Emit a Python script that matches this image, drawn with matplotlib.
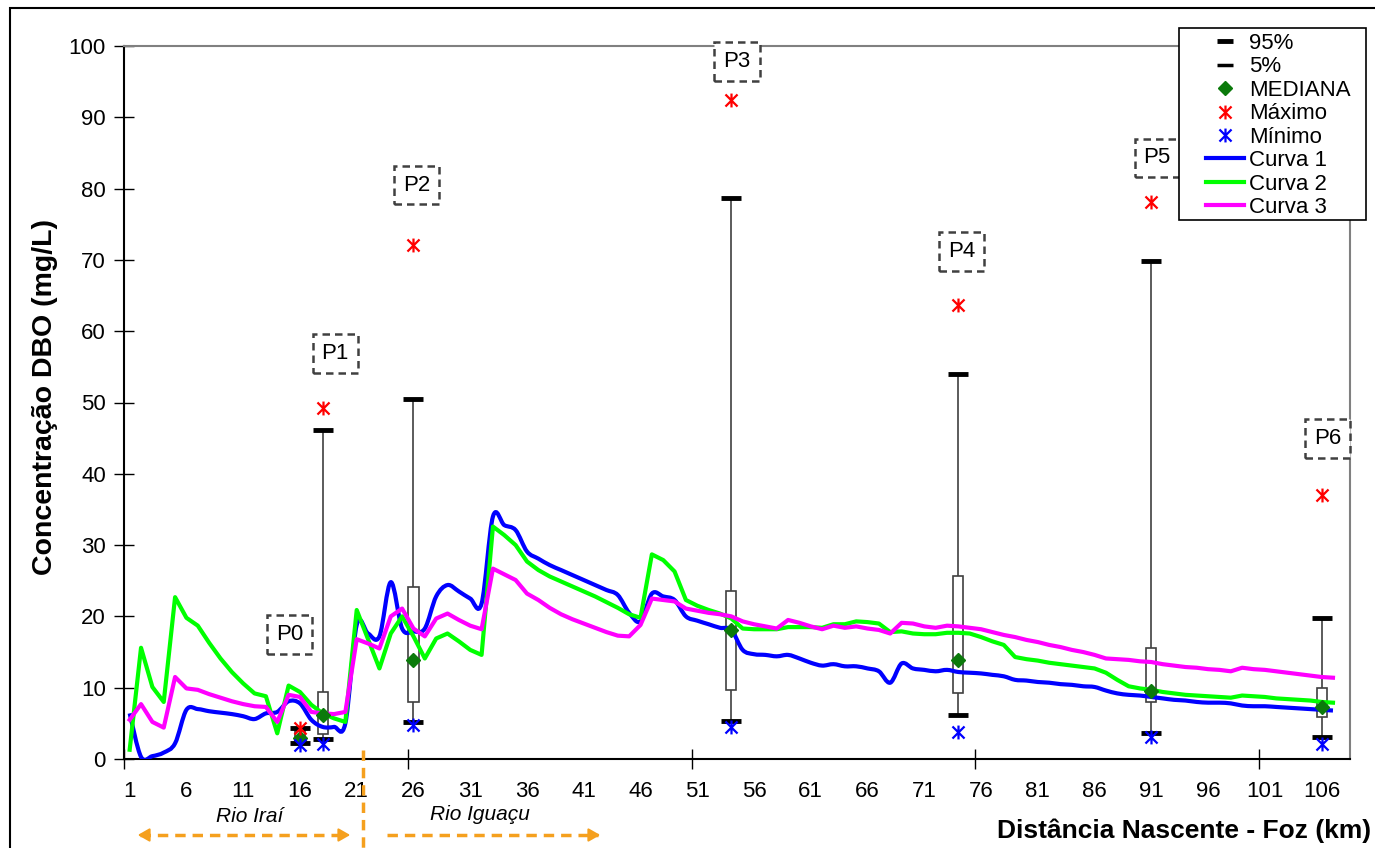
import matplotlib
matplotlib.use("Agg")
import matplotlib.pyplot as plt
from matplotlib.patches import Rectangle, FancyArrowPatch, PathPatch
from matplotlib.lines import Line2D
from matplotlib.path import Path

plt.rcParams['font.family'] = ['Liberation Sans', 'DejaVu Sans']

# ---------------- data ----------------
km = list(range(1, 108))
curva1 = [6.4, 0.3, 0.4, 0.9, 2.2, 6.9, 7.0, 6.7, 6.5, 6.3, 6.0, 5.6, 6.4, 6.6, 8.1, 7.8, 5.5, 4.5, 4.5, 5.0,
          18.8, 17.6, 17.2, 24.8, 18.3, 17.9, 18.3, 22.8, 24.4, 23.5, 22.5, 21.8, 34.0, 32.8, 32.1, 29.1, 28.1, 27.2,
          26.5, 25.8, 25.1, 24.4, 23.7, 23.0, 20.5, 19.3, 23.2, 22.8, 22.3, 20.0, 19.4, 18.9, 18.4, 18.1, 15.3, 14.7,
          14.6, 14.4, 14.6, 14.1, 13.5, 13.1, 13.3, 13.0, 13.0, 12.7, 12.3, 10.7, 13.4, 12.7, 12.5, 12.3, 12.5, 12.2,
          12.1, 12.0, 11.8, 11.6, 11.1, 11.0, 10.8, 10.7, 10.5, 10.4, 10.2, 10.1, 9.6, 9.2, 9.0, 8.9, 8.7, 8.5, 8.3,
          8.2, 8.0, 7.9, 7.9, 7.8, 7.5, 7.4, 7.4, 7.3, 7.2, 7.1, 7.0, 6.9, 6.8]
curva2 = [1.3, 15.6, 10.1, 8.0, 22.7, 19.8, 18.7, 16.3, 14.1, 12.2, 10.6, 9.2, 8.8, 3.6, 10.3, 9.4, 7.6, 6.4, 5.7, 5.2,
          20.9, 16.8, 12.7, 17.6, 20.0, 17.2, 14.1, 16.9, 17.6, 16.5, 15.3, 14.6, 32.6, 31.4, 30.0, 27.7, 26.5, 25.6,
          24.9, 24.2, 23.5, 22.8, 22.0, 21.2, 20.3, 19.8, 28.7, 27.9, 26.3, 22.3, 21.5, 20.9, 20.4, 19.7, 18.3, 18.2,
          18.2, 18.2, 18.5, 18.5, 18.5, 18.4, 18.9, 18.9, 19.3, 19.2, 19.0, 17.8, 17.9, 17.6, 17.5, 17.5, 17.7, 17.7,
          17.6, 17.1, 16.5, 16.0, 14.3, 14.0, 13.8, 13.5, 13.3, 13.1, 12.9, 12.7, 12.1, 11.1, 10.2, 9.9, 9.7, 9.4, 9.2,
          9.0, 8.9, 8.8, 8.7, 8.6, 8.9, 8.8, 8.7, 8.5, 8.4, 8.3, 8.2, 8.0, 7.9]
curva3 = [5.5, 7.7, 5.2, 4.4, 11.5, 9.9, 9.7, 9.1, 8.6, 8.1, 7.7, 7.4, 7.3, 5.2, 9.0, 8.7, 6.6, 6.4, 6.3, 6.6,
          16.8, 16.2, 15.5, 20.0, 21.1, 18.3, 17.2, 19.7, 20.4, 19.5, 18.7, 18.2, 26.7, 25.9, 25.1, 23.2, 22.3, 21.2,
          20.3, 19.6, 19.0, 18.4, 17.8, 17.3, 17.2, 18.8, 22.5, 22.3, 22.1, 21.1, 20.8, 20.5, 20.3, 20.0, 19.3, 18.9,
          18.6, 18.3, 19.5, 19.1, 18.6, 18.2, 18.7, 18.4, 18.6, 18.3, 18.1, 17.6, 19.1, 19.0, 18.6, 18.4, 18.7, 18.6,
          18.4, 18.2, 17.8, 17.4, 17.1, 16.7, 16.4, 16.0, 15.7, 15.3, 15.0, 14.6, 14.1, 14.0, 13.9, 13.7, 13.6, 13.3,
          13.1, 12.9, 12.8, 12.6, 12.5, 12.3, 12.8, 12.6, 12.5, 12.3, 12.1, 11.9, 11.7, 11.5, 11.4]

pontos = ['P0', 'P1', 'P2', 'P3', 'P4', 'P5', 'P6']
pos_pontos = [16, 18, 26, 54, 74, 91, 106]
p95 = [4.3, 46.1, 50.5, 78.7, 54.0, 69.8, 19.8]
p05 = [2.2, 2.8, 5.2, 5.3, 6.2, 3.6, 3.1]
q3 = [3.9, 9.4, 24.1, 23.6, 25.7, 15.6, 9.9]
q1 = [2.6, 3.5, 8.0, 9.7, 9.2, 8.0, 5.9]
mediana = [2.9, 6.2, 13.9, 18.1, 13.9, 9.5, 7.3]
maximo = [4.3, 49.2, 72.1, 92.4, 63.7, 78.1, 37.0]
minimo = [2.0, 2.1, 4.8, 4.5, 3.8, 3.1, 2.1]
label_x = [15.1, 19.1, 26.3, 54.5, 74.3, 91.5, 106.5]
label_y = [17.5, 56.9, 80.5, 97.8, 71.2, 84.3, 45.0]

xtick_labels = list(range(1, 107, 5))
yticks = list(range(0, 101, 10))

# ---------------- figure ----------------
W, H = 1375, 848
fig = plt.figure(figsize=(W / 100, H / 100), dpi=100)
ax = fig.add_axes([124 / W, (H - 759) / H, (1350 - 124) / W, (759 - 46) / H])

ax.set_xlim(0.5, 108.5)
ax.set_ylim(0, 100)

# Excel-like star marker: X plus vertical bar
star = Path([(-1, -1), (1, 1), (-1, 1), (1, -1), (0, -1.15), (0, 1.15)],
            [Path.MOVETO, Path.LINETO, Path.MOVETO, Path.LINETO, Path.MOVETO, Path.LINETO])


def smooth_path(xs, ys):
    """Excel-style smoothed line through the points (Catmull-Rom as cubic Bezier)."""
    n = len(xs)
    verts = [(xs[0], ys[0])]
    codes = [Path.MOVETO]
    for i in range(n - 1):
        i0 = max(i - 1, 0)
        i3 = min(i + 2, n - 1)
        c1 = (xs[i] + (xs[i + 1] - xs[i0]) / 6, ys[i] + (ys[i + 1] - ys[i0]) / 6)
        c2 = (xs[i + 1] - (xs[i3] - xs[i]) / 6, ys[i + 1] - (ys[i3] - ys[i]) / 6)
        verts += [c1, c2, (xs[i + 1], ys[i + 1])]
        codes += [Path.CURVE4] * 3
    return Path(verts, codes)


# box plots
for i, x in enumerate(pos_pontos):
    ax.plot([x, x], [p05[i], p95[i]], color='#404040', lw=1.2, zorder=2)
    ax.add_patch(Rectangle((x - 0.45, q1[i]), 0.9, q3[i] - q1[i], facecolor='white',
                           edgecolor='#404040', lw=1.2, zorder=3))

# curves
ax.add_patch(PathPatch(smooth_path(km, curva1), facecolor='none', edgecolor='#0000FF',
                       lw=3, zorder=4, joinstyle='round'))
ax.plot(km, curva2, color='#00FF00', lw=3, zorder=4, solid_joinstyle='round')
ax.plot(km, curva3, color='#FF00FF', lw=3, zorder=4, solid_joinstyle='round')

ax.plot(pos_pontos, p95, ls='none', marker='_', ms=14, mew=3.5, color='black', zorder=5)
ax.plot(pos_pontos, p05, ls='none', marker='_', ms=14, mew=3.5, color='black', zorder=5)
ax.plot(pos_pontos, mediana, ls='none', marker='D', ms=7, color='#0B7A0B', zorder=6)
ax.plot(pos_pontos, maximo, ls='none', marker=star, ms=10, mew=1.6, color='#FF0000', zorder=6)
ax.plot(pos_pontos, minimo, ls='none', marker=star, ms=10, mew=1.6, color='#0000FF', zorder=6)

for i, name in enumerate(pontos):
    ax.text(label_x[i], label_y[i], name, fontsize=16, ha='center', va='center', zorder=7,
            bbox=dict(boxstyle='square,pad=0.4', facecolor='white', edgecolor='#404040',
                      linestyle=(0, (3, 2)), lw=1.8))

# axes style
for s in ['left', 'bottom']:
    ax.spines[s].set_color('black')
    ax.spines[s].set_linewidth(1.5)
for s in ['top', 'right']:
    ax.spines[s].set_color('#808080')
    ax.spines[s].set_linewidth(1.5)

ax.set_yticks(yticks)
ax.set_yticklabels([str(v) for v in yticks], fontsize=16)
ax.tick_params(axis='y', direction='inout', length=14, width=1, pad=6)

ax.set_xticks(xtick_labels)
ax.set_xticklabels([str(v) for v in xtick_labels], fontsize=16)
ax.tick_params(axis='x', which='major', length=0, pad=16)
ax.set_xticks([0.5, 25.5, 50.5, 75.5, 100.5], minor=True)
ax.tick_params(axis='x', which='minor', direction='inout', length=14, width=1)

fig.text(45 / W, 1 - 397 / H, 'Concentração DBO (mg/L)', rotation=90, fontsize=20.5,
         fontweight='bold', ha='center', va='center')
fig.text(1371 / W, 1 - 831 / H, 'Distância Nascente - Foz (km)', fontsize=19,
         fontweight='bold', ha='right', va='center')

# river annotations
orange = '#F5A01E'
fig.text(250 / W, 1 - 816 / H, 'Rio Iraí', fontsize=15, style='italic', ha='center', va='center')
fig.text(480 / W, 1 - 814 / H, 'Rio Iguaçu', fontsize=15, style='italic', ha='center', va='center')
fig.add_artist(Line2D([363 / W, 363 / W], [1 - 750 / H, 0], transform=fig.transFigure,
                      color=orange, lw=2.5, ls=(0, (3, 2))))
ya = 1 - 835 / H
fig.add_artist(Line2D([140 / W, 348 / W], [ya, ya], transform=fig.transFigure,
                      color=orange, lw=2.5, ls=(0, (3, 2))))
fig.add_artist(Line2D([387 / W, 598 / W], [ya, ya], transform=fig.transFigure,
                      color=orange, lw=2.5, ls=(0, (3, 2))))
for (x0, x1) in [(146, 135), (341, 353), (592, 603)]:
    fig.add_artist(FancyArrowPatch((x0 / W, ya), (x1 / W, ya), transform=fig.transFigure,
                                   arrowstyle='-|>,head_length=7,head_width=4',
                                   color=orange, lw=1.5, mutation_scale=1))

# legend
handles = [
    Line2D([], [], ls='none', marker='_', ms=12, mew=3.5, color='black'),
    Line2D([], [], ls='none', marker='_', ms=12, mew=2.5, color='black'),
    Line2D([], [], ls='none', marker='D', ms=7, color='#0B7A0B'),
    Line2D([], [], ls='none', marker=star, ms=10, mew=1.6, color='#FF0000'),
    Line2D([], [], ls='none', marker=star, ms=10, mew=1.6, color='#0000FF'),
    Line2D([], [], color='#0000FF', lw=3),
    Line2D([], [], color='#00FF00', lw=3),
    Line2D([], [], color='#FF00FF', lw=3),
]
labels = ['95%', '5%', 'MEDIANA', 'Máximo', 'Mínimo', 'Curva 1', 'Curva 2', 'Curva 3']
fig.add_artist(Rectangle((1179 / W, 1 - 220 / H), (1366 - 1179) / W, (220 - 28) / H,
                         transform=fig.transFigure, facecolor='white', edgecolor='black',
                         lw=1.2, zorder=8))
leg = fig.legend(handles, labels, loc='upper left', bbox_to_anchor=(1206 / W, 1 - 33 / H),
                 bbox_transform=fig.transFigure, frameon=False, fontsize=16,
                 handlelength=1.7, handletextpad=0.25, labelspacing=0.11, borderpad=0,
                 borderaxespad=0)
leg.set_zorder(9)

# outer chart border
fig.add_artist(Rectangle((10 / W, -0.05), 1.1, 1 - 8 / H + 0.05, transform=fig.transFigure,
                         facecolor='none', edgecolor='black', lw=1.5))

fig.savefig('out.png', dpi=100)
